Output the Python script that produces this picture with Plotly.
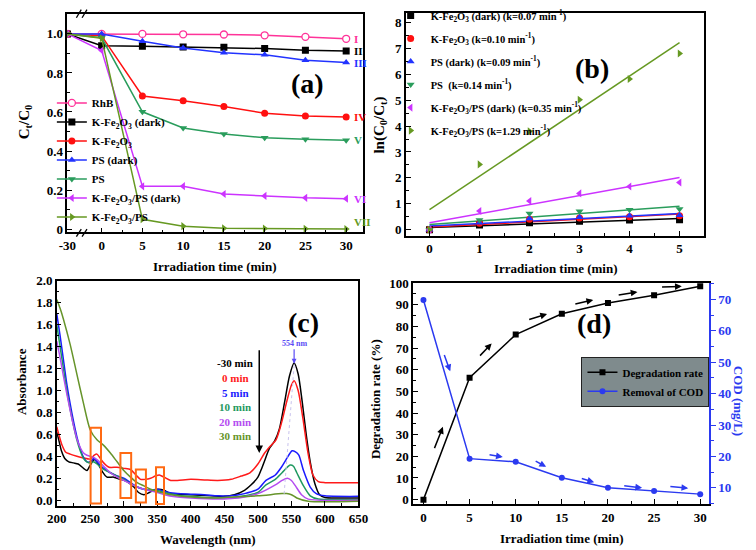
import plotly.graph_objects as go

FONT = "Liberation Serif"

# ---------------- Panel (a) data ----------------
time_a = [-30, 0, 5, 10, 15, 20, 25, 30]
rhb = [1.0, 1.0, 1.0, 0.998, 0.997, 0.993, 0.985, 0.975]
kfe_dark = [1.0, 0.94, 0.937, 0.933, 0.932, 0.925, 0.916, 0.913]
kfe = [1.0, 0.99, 0.682, 0.657, 0.628, 0.594, 0.58, 0.574]
ps_dark = [1.0, 1.0, 0.962, 0.928, 0.903, 0.893, 0.865, 0.853]
ps = [1.0, 0.98, 0.601, 0.518, 0.487, 0.468, 0.46, 0.455]
kfeps_dark = [1.0, 0.915, 0.219, 0.22, 0.18, 0.17, 0.16, 0.156]
kfeps = [1.0, 0.978, 0.05, 0.015, 0.004, 0.003, 0.002, 0.0]
names_a = ["RhB", "K-Fe<sub>2</sub>O<sub>3</sub> (dark)", "K-Fe<sub>2</sub>O<sub>3</sub>",
           "PS (dark)", "PS", "K-Fe<sub>2</sub>O<sub>3</sub>/PS (dark)", "K-Fe<sub>2</sub>O<sub>3</sub>/PS"]
roman = ["I", "II", "IV", "III", "V", "VI", "VII"]
time_ticks_a = [-30, 0, 5, 10, 15, 20, 25, 30]

# ---------------- Panel (b) data ----------------
time_b = [0, 1, 2, 3, 4, 5]
ln_kfe_dark = [0, 0.18, 0.27, 0.32, 0.37, 0.38]
ln_kfe = [0, 0.25, 0.40, 0.45, 0.50, 0.54]
ln_ps_dark = [0, 0.27, 0.43, 0.48, 0.54, 0.56]
ln_ps = [0, 0.37, 0.62, 0.71, 0.77, 0.80]
ln_kfeps_dark = [0, 0.72, 1.11, 1.40, 1.67, 1.82]
ln_kfeps = [0, 2.52, 3.80, 5.02, 5.82, 6.80]
fit_t = [0, 5]
fit_start = [0.08, 0.10, 0.14, 0.20, 0.27, 0.77]
fit_end = [0.43, 0.60, 0.62, 0.90, 2.01, 7.22]
names_b = ["K-Fe<sub>2</sub>O<sub>3</sub> (dark) (k=0.07 min<sup>-1</sup>)",
           "K-Fe<sub>2</sub>O<sub>3</sub> (k=0.10 min<sup>-1</sup>)",
           "PS (dark) (k=0.09 min<sup>-1</sup>)",
           "PS  (k=0.14 min<sup>-1</sup>)",
           "K-Fe<sub>2</sub>O<sub>3</sub>/PS (dark) (k=0.35 min<sup>-1</sup>)",
           "K-Fe<sub>2</sub>O<sub>3</sub>/PS (k=1.29 min<sup>-1</sup>)"]

# ---------------- Panel (c) data ----------------
wl_m30 = [200, 203, 207, 212, 218, 225, 232, 240, 245, 250, 256, 262, 268, 275, 285, 295, 305, 315, 322, 330,
          338, 345, 352, 360, 370, 400, 430, 450, 465, 480, 490, 500, 505, 510, 517, 525, 532, 540, 547, 554,
          560, 566, 572, 578, 585, 592, 600, 620, 650]
ab_m30 = [0.62, 0.55, 0.45, 0.38, 0.35, 0.34, 0.33, 0.29, 0.27, 0.32, 0.37, 0.33, 0.26, 0.21, 0.21, 0.19, 0.17,
          0.12, 0.07, 0.05, 0.07, 0.09, 0.10, 0.09, 0.06, 0.05, 0.04, 0.035, 0.05, 0.09, 0.14, 0.21, 0.28, 0.36,
          0.47, 0.54, 0.65, 0.90, 1.13, 1.25, 1.15, 0.90, 0.60, 0.35, 0.15, 0.05, 0.025, 0.02, 0.02]
wl_0 = [200, 204, 208, 213, 220, 230, 240, 250, 256, 260, 265, 270, 278, 290, 300, 310, 318, 325, 332, 340, 347,
        353, 360, 370, 380, 400, 420, 440, 460, 475, 488, 500, 510, 518, 527, 535, 543, 550, 554, 560, 567, 575,
        582, 590, 600, 650]
ab_0 = [0.67, 0.58, 0.50, 0.44, 0.42, 0.40, 0.385, 0.375, 0.41, 0.42, 0.38, 0.34, 0.30, 0.30, 0.29, 0.28, 0.23,
        0.19, 0.19, 0.20, 0.22, 0.23, 0.21, 0.18, 0.18, 0.19, 0.185, 0.18, 0.19, 0.22, 0.25, 0.33, 0.43, 0.49,
        0.55, 0.70, 0.90, 1.05, 1.09, 1.00, 0.75, 0.42, 0.23, 0.17, 0.16, 0.16]
wl_5 = [200, 205, 210, 215, 220, 225, 230, 235, 240, 245, 250, 255, 260, 270, 280, 290, 300, 310, 320, 330, 340,
        350, 360, 380, 400, 420, 440, 460, 480, 500, 512, 526, 535, 542, 551, 556, 561, 568, 578, 587, 600, 650]
ab_5 = [1.70, 1.50, 1.28, 1.06, 0.88, 0.72, 0.58, 0.47, 0.39, 0.35, 0.35, 0.38, 0.35, 0.29, 0.25, 0.22, 0.20,
        0.16, 0.12, 0.10, 0.09, 0.10, 0.08, 0.06, 0.055, 0.05, 0.04, 0.04, 0.06, 0.10, 0.18, 0.23, 0.30, 0.37,
        0.45, 0.44, 0.41, 0.27, 0.12, 0.06, 0.04, 0.035]
wl_10 = [200, 205, 210, 215, 220, 225, 230, 235, 240, 245, 250, 255, 260, 270, 280, 290, 300, 310, 320, 330,
         340, 350, 360, 380, 400, 440, 460, 480, 500, 512, 526, 536, 548, 553, 558, 568, 578, 590, 650]
ab_10 = [1.60, 1.40, 1.20, 1.00, 0.83, 0.68, 0.55, 0.45, 0.38, 0.35, 0.34, 0.35, 0.33, 0.28, 0.25, 0.22, 0.19,
         0.15, 0.12, 0.10, 0.09, 0.09, 0.07, 0.045, 0.035, 0.02, 0.025, 0.04, 0.07, 0.14, 0.19, 0.25, 0.32, 0.31,
         0.25, 0.13, 0.04, 0.01, 0.005]
wl_20 = [200, 205, 210, 215, 220, 225, 230, 235, 240, 245, 250, 255, 260, 270, 280, 290, 300, 310, 320, 330,
         340, 350, 360, 380, 400, 440, 460, 480, 500, 526, 536, 544, 550, 556, 565, 575, 650]
ab_20 = [1.45, 1.30, 1.13, 0.97, 0.82, 0.68, 0.56, 0.48, 0.43, 0.41, 0.40, 0.39, 0.37, 0.31, 0.25, 0.21, 0.18,
         0.15, 0.12, 0.10, 0.085, 0.07, 0.05, 0.03, 0.02, 0.01, 0.015, 0.03, 0.06, 0.14, 0.18, 0.20, 0.18, 0.13,
         0.05, 0.01, 0.0]
wl_30 = [200, 205, 210, 220, 230, 240, 250, 260, 270, 280, 290, 300, 310, 320, 330, 340, 350, 370, 400, 440,
         464, 500, 536, 543, 550, 558, 575, 650]
ab_30 = [1.83, 1.75, 1.65, 1.42, 1.15, 0.88, 0.64, 0.55, 0.50, 0.43, 0.35, 0.27, 0.21, 0.16, 0.13, 0.10, 0.08,
         0.05, 0.03, 0.02, 0.03, 0.04, 0.06, 0.06, 0.05, 0.02, -0.01, -0.01]
spectra_labels = ["-30 min", "0 min", "5 min", "10 min", "20 min", "30 min"]

# ---------------- Panel (d) data ----------------
time_d = [0, 5, 10, 15, 20, 25, 30]
deg_rate = [0, 56.3, 76.2, 85.8, 90.8, 94.4, 98.5]
cod = [69.8, 19.3, 18.3, 13.2, 10.0, 9.0, 8.0]

# ---------------- styles ----------------
C_PINK = "#ff3399"
C_BLACK = "#000000"
C_RED = "#ff1010"
C_BLUE = "#2233ff"
C_GREEN = "#2a9d5c"
C_VIOLET = "#cc33ff"
C_OLIVE = "#669922"
C_ORANGE = "#ff6a13"
C_CODBLUE = "#2b3af0"

BREAK_POS = -4.2  # display position of the -30 min point on the broken axis


def disp(t):
    return t if t >= 0 else BREAK_POS


fig = go.Figure()

# ---- (a) ----
series_a = [rhb, kfe_dark, kfe, ps_dark, ps, kfeps_dark, kfeps]
cols_a = [C_PINK, C_BLACK, C_RED, C_BLUE, C_GREEN, C_VIOLET, C_OLIVE]
syms_a = ["circle", "square", "circle", "triangle-up", "triangle-down", "triangle-left", "triangle-right"]
xa = [disp(t) for t in time_a]
for i, (vals, c, s, n) in enumerate(zip(series_a, cols_a, syms_a, names_a)):
    fig.add_trace(go.Scatter(
        x=xa, y=vals, mode="lines+markers", name=n, legend="legend",
        line=dict(color=c, width=1.5),
        marker=dict(symbol=s, size=7, color="white" if i == 0 else c,
                    line=dict(color=c, width=1.3 if i == 0 else 0)),
        xaxis="x", yaxis="y"))

# ---- (b) ----
series_b = [ln_kfe_dark, ln_kfe, ln_ps_dark, ln_ps, ln_kfeps_dark, ln_kfeps]
cols_b = [C_BLACK, C_RED, C_BLUE, C_GREEN, C_VIOLET, C_OLIVE]
syms_b = ["square", "circle", "triangle-up", "triangle-down", "triangle-left", "triangle-right"]
for i in range(6):
    fig.add_trace(go.Scatter(
        x=fit_t, y=[fit_start[i], fit_end[i]], mode="lines", showlegend=False,
        line=dict(color=cols_b[i], width=1.5), xaxis="x2", yaxis="y2"))
for i in range(6):
    fig.add_trace(go.Scatter(
        x=time_b, y=series_b[i], mode="markers", name=names_b[i], legend="legend2",
        legendgroup="g%d" % i,
        marker=dict(symbol=syms_b[i], size=7, color=cols_b[i]),
        xaxis="x2", yaxis="y2"))

# ---- (c) ----
spec = [(wl_m30, ab_m30, C_BLACK), (wl_0, ab_0, "#ff1a1a"), (wl_5, ab_5, "#1a1aff"),
        (wl_10, ab_10, "#1f9960"), (wl_20, ab_20, "#b44cf0"), (wl_30, ab_30, "#66942a")]
for wl, ab, c in spec:
    fig.add_trace(go.Scatter(
        x=wl, y=ab, mode="lines", showlegend=False,
        line=dict(color=c, width=1.5, shape="spline", smoothing=0.7),
        xaxis="x3", yaxis="y3"))

# ---- (d) ----
fig.add_trace(go.Scatter(
    x=time_d, y=deg_rate, mode="lines+markers", name="Degradation rate", legend="legend3",
    line=dict(color=C_BLACK, width=1.5), marker=dict(symbol="square", size=6, color=C_BLACK),
    xaxis="x4", yaxis="y4"))
fig.add_trace(go.Scatter(
    x=time_d, y=cod, mode="lines+markers", name="Removal of COD", legend="legend3",
    line=dict(color=C_CODBLUE, width=1.5), marker=dict(symbol="circle", size=6, color=C_CODBLUE),
    xaxis="x4", yaxis="y5"))

# ---------------- axes ----------------
tickfont = dict(family=FONT, size=13, color="black", weight="bold")
base = dict(showgrid=False, zeroline=False, showline=True, linecolor="black", linewidth=1.5,
            ticks="inside", ticklen=5, tickwidth=1.2, tickcolor="black", tickfont=tickfont)

fig.update_layout(
    width=756, height=550, margin=dict(l=0, r=0, t=0, b=0),
    paper_bgcolor="white", plot_bgcolor="white",
    font=dict(family=FONT, color="black"),
    xaxis=dict(base, domain=[0.078, 0.480], range=[BREAK_POS, 32.1], anchor="y", mirror=True,
               tickmode="array", tickvals=[disp(t) for t in time_ticks_a],
               ticktext=[str(t) for t in time_ticks_a],
               minor=dict(ticks="inside", ticklen=3, tickcolor="black",
                          tickmode="array", tickvals=[2.5, 7.5, 12.5, 17.5, 22.5, 27.5])),
    yaxis=dict(base, domain=[0.582, 0.987], range=[-0.0165, 1.102], anchor="x", mirror=True,
               tickmode="array", tickvals=[0, 0.2, 0.4, 0.6, 0.8, 1.0],
               ticktext=["0", "0.2", "0.4", "0.6", "0.8", "1.0"],
               minor=dict(ticks="inside", ticklen=3, tickcolor="black",
                          tickmode="array", tickvals=[0.1, 0.3, 0.5, 0.7, 0.9])),
    xaxis2=dict(base, domain=[0.538, 0.943], range=[-0.47, 5.49], anchor="y2", mirror=True,
                dtick=1, tick0=0,
                minor=dict(ticks="inside", ticklen=3, tickcolor="black", dtick=0.5, tick0=0)),
    yaxis2=dict(base, domain=[0.576, 0.989], range=[-0.227, 8.37], anchor="x2", mirror=True,
                dtick=1, tick0=0,
                minor=dict(ticks="inside", ticklen=3, tickcolor="black", dtick=0.5, tick0=0)),
    xaxis3=dict(base, domain=[0.0635, 0.4735], range=[200, 650], anchor="y3", mirror=True,
                dtick=50, tick0=200,
                minor=dict(ticks="inside", ticklen=3, tickcolor="black", dtick=25, tick0=200)),
    yaxis3=dict(base, domain=[0.074, 0.492], range=[-0.054, 2.0], anchor="x3", mirror=True,
                dtick=0.2, tick0=0, tickformat=".1f",
                minor=dict(ticks="inside", ticklen=3, tickcolor="black", dtick=0.1, tick0=0)),
    xaxis4=dict(base, domain=[0.5476, 0.9497], range=[-1.13, 30.95], anchor="y4", mirror=True,
                dtick=5, tick0=0,
                minor=dict(ticks="inside", ticklen=3, tickcolor="black", dtick=2.5, tick0=0)),
    yaxis4=dict(base, domain=[0.0776, 0.4878], range=[-2.1, 100], anchor="x4", mirror=False,
                dtick=10, tick0=0,
                minor=dict(ticks="inside", ticklen=3, tickcolor="black", dtick=5, tick0=0)),
    yaxis5=dict(showgrid=False, zeroline=False, showline=True, linecolor=C_CODBLUE, linewidth=1.5,
                overlaying="y4", side="right", anchor="x4", range=[4.8, 75.2],
                ticks="outside", ticklen=5, tickwidth=1.2, tickcolor=C_CODBLUE,
                tickfont=dict(family=FONT, size=13, color=C_CODBLUE, weight="bold"),
                tickmode="array", tickvals=[10, 20, 30, 40, 50, 60, 70],
                minor=dict(ticks="outside", ticklen=3, tickcolor=C_CODBLUE,
                           tickmode="array", tickvals=[5, 15, 25, 35, 45, 55, 65, 75])),
    legend=dict(x=43 / 756, y=1 - 229 / 550, xanchor="left", yanchor="bottom",
                bgcolor="rgba(0,0,0,0)", itemwidth=30,
                font=dict(family=FONT, size=11, color="black", weight="bold")),
    legend2=dict(x=391 / 756, y=1 + 6 / 550, xanchor="left", yanchor="top",
                 bgcolor="rgba(0,0,0,0)", itemwidth=30, tracegroupgap=4,
                 font=dict(family=FONT, size=10.5, color="black", weight="bold")),
    legend3=dict(x=587 / 756, y=1 - 357 / 550, xanchor="left", yanchor="top",
                 bgcolor="#7f8b8d", bordercolor="#222222", borderwidth=1, itemwidth=30,
                 font=dict(family=FONT, size=11, color="black", weight="bold")),
)

# ---------------- annotations ----------------
ann = []


def txt(text, x, y, size=13, color="black", xref="paper", yref="paper", angle=0, xanchor="center",
        yanchor="middle"):
    ann.append(dict(text=text, x=x, y=y, xref=xref, yref=yref, showarrow=False, textangle=angle,
                    xanchor=xanchor, yanchor=yanchor,
                    font=dict(family=FONT, size=size, color=color, weight="bold")))


# axis titles
txt("C<sub>t</sub>/C<sub>0</sub>", 15 / 756, 1 - 117 / 550, size=15, angle=-90)
txt("Irradiation time (min)", 210 / 756, 1 - 265 / 550, size=13)
txt("ln(C<sub>0</sub>/C<sub>t</sub>)", 380 / 756, 1 - 120 / 550, size=15, angle=-90)
txt("Irradiation time (min)", 560 / 756, 1 - 267 / 550, size=13)
txt("Absorbance", 12 / 756, 1 - 382 / 550, size=13, angle=-90)
txt("Wavelength (nm)", 203 / 756, 1 - 543 / 550, size=13)
txt("Degradation rate (%)", 375 / 756, 1 - 400 / 550, size=13, angle=-90)
txt("COD (mg/L)", 748 / 756, 1 - 402 / 550, size=13, color=C_CODBLUE, angle=90)
txt("Irradiation time (min)", 566 / 756, 1 - 542 / 550, size=13)

# panel letters
txt("(a)", 306 / 756, 1 - 78 / 550, size=28)
txt("(b)", 598 / 756, 1 - 63 / 550, size=28)
txt("(c)", 301 / 756, 1 - 322 / 550, size=28)
txt("(d)", 600 / 756, 1 - 323 / 550, size=28)

# roman numerals in (a)
roman_y = [0.975, 0.913, 0.574, 0.853, 0.455, 0.156, 0.035]
for r, yv, c in zip(roman, roman_y, cols_a):
    txt(r, 30.7, yv, size=11, color=c, xref="x", yref="y", xanchor="left")

# (c) time labels
lab_y = [1.25, 1.11, 0.98, 0.85, 0.715, 0.585]
for (wl, ab, c), lab, yv in zip(spec, spectra_labels, lab_y):
    txt(lab, 466, yv, size=11, color=c, xref="x3", yref="y3")
txt("554 nm", 554, 1.43, size=8, color="#5b4cf5", xref="x3", yref="y3")

# arrows (c)
ann.append(dict(x=502, y=0.43, ax=502, ay=1.38, xref="x3", yref="y3", axref="x3", ayref="y3",
                text="", showarrow=True, arrowhead=2, arrowsize=1, arrowwidth=1.5, arrowcolor="black"))
ann.append(dict(x=554, y=1.245, ax=554, ay=1.39, xref="x3", yref="y3", axref="x3", ayref="y3",
                text="", showarrow=True, arrowhead=2, arrowsize=0.8, arrowwidth=1.2, arrowcolor="#5b4cf5"))

# arrows (d)
black_arrows = [((1.13, 23.1), (2.11, 33.6)), ((5.98, 65.8), (7.39, 72.1)), ((11.3, 83.0), (13.4, 85.7)),
                ((16.3, 90.2), (18.4, 92.2)), ((21.0, 94.4), (23.2, 95.9)), ((25.7, 98.2), (28.0, 98.5))]
blue_arrows = [((2.2, 52.8), (2.9, 47.1)), ((7.0, 20.6), (8.6, 19.8)), ((12.0, 18.75), (13.3, 16.7)),
               ((17.0, 13.1), (18.5, 11.8)), ((21.6, 10.75), (23.7, 10.0)), ((26.6, 10.5), (28.7, 9.9))]
for (s, e) in black_arrows:
    ann.append(dict(x=e[0], y=e[1], ax=s[0], ay=s[1], xref="x4", yref="y4", axref="x4", ayref="y4",
                    text="", showarrow=True, arrowhead=2, arrowsize=0.9, arrowwidth=1.5, arrowcolor="black"))
for (s, e) in blue_arrows:
    ann.append(dict(x=e[0], y=e[1], ax=s[0], ay=s[1], xref="x4", yref="y5", axref="x4", ayref="y5",
                    text="", showarrow=True, arrowhead=2, arrowsize=0.9, arrowwidth=1.5, arrowcolor=C_CODBLUE))

fig.update_layout(annotations=ann)

# ---------------- shapes ----------------
shapes = []
# orange boxes in (c)
for x0, x1, y0, y1 in [(250.5, 266, -0.03, 0.66), (295, 311, 0.02, 0.43), (318, 333, -0.02, 0.28),
                       (348, 360, -0.035, 0.30)]:
    shapes.append(dict(type="rect", xref="x3", yref="y3", x0=x0, x1=x1, y0=y0, y1=y1,
                       line=dict(color=C_ORANGE, width=2), fillcolor="rgba(0,0,0,0)"))
# pale dotted guide line through the peak
shapes.append(dict(type="line", xref="x3", yref="y3", x0=554, y0=1.23, x1=539, y1=0.05,
                   line=dict(color="#c9c3ee", width=1, dash="dot")))
# axis break marks in (a)
for yb0, yb1 in [(-0.02, 0.015), (0.983, 1.02)]:
    for xb0, xb1 in [(-3.1, -2.5), (-2.4, -1.8)]:
        shapes.append(dict(type="line", xref="x", yref="y domain", x0=xb0, x1=xb1, y0=yb0, y1=yb1,
                           line=dict(color="black", width=1.3)))
fig.update_layout(shapes=shapes)

fig.write_html("out.html")
